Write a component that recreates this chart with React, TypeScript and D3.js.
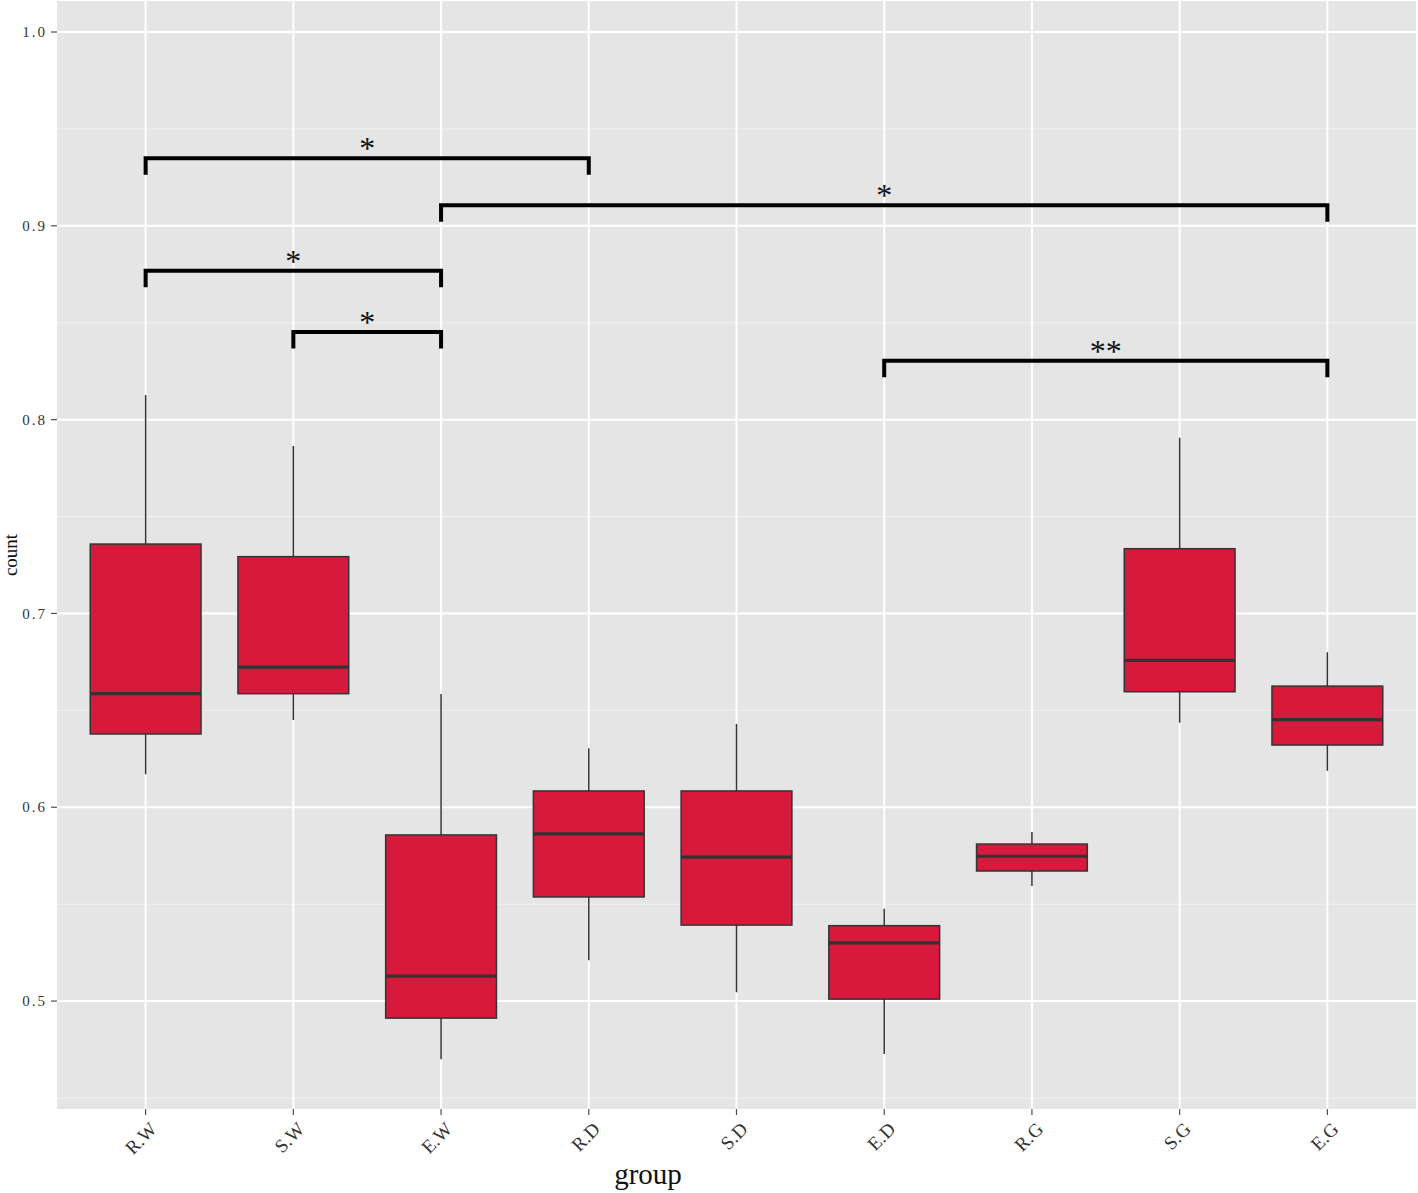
import React, { useEffect, useRef } from 'react';
import * as d3 from 'd3';

// boxplot stats per group
const groups = ['R.W', 'S.W', 'E.W', 'R.D', 'S.D', 'E.D', 'R.G', 'S.G', 'E.G'];
const lowerWhisker = [0.617, 0.645, 0.470, 0.521, 0.5046, 0.4727, 0.5593, 0.6436, 0.6188];
const lowerHinge = [0.6378, 0.6586, 0.4912, 0.5537, 0.5392, 0.501, 0.5671, 0.6596, 0.6321];
const medians = [0.6586, 0.6723, 0.5129, 0.5863, 0.5743, 0.530, 0.5747, 0.6758, 0.6452];
const upperHinge = [0.7358, 0.7293, 0.5857, 0.6084, 0.6084, 0.5389, 0.581, 0.7334, 0.6625];
const upperWhisker = [0.8127, 0.7864, 0.6584, 0.6305, 0.643, 0.5476, 0.5872, 0.7907, 0.680];

// significance brackets
const bracketFrom = ['R.W', 'E.W', 'R.W', 'S.W', 'E.D'];
const bracketTo = ['R.D', 'E.G', 'E.W', 'E.W', 'E.G'];
const bracketY = [0.9348, 0.9106, 0.8768, 0.8452, 0.8304];
const bracketLabel = ['*', '*', '*', '*', '**'];

const yTicks = [0.5, 0.6, 0.7, 0.8, 0.9, 1.0];
const yMinor = [0.45, 0.55, 0.65, 0.75, 0.85, 0.95];

function App() {
  const ref = useRef(null);

  useEffect(() => {
    const W = 1418;
    const H = 1193;
    const panel = { left: 57, right: 1416, top: 1, bottom: 1109 };
    const svg = d3.select(ref.current);
    svg.selectAll('*').remove();
    svg.attr('width', W).attr('height', H);

    const x = d3.scalePoint().domain(groups).range([panel.left, panel.right]).padding(0.6);
    const y = d3.scaleLinear().domain([0.4443, 1.016]).range([panel.bottom, panel.top]);
    const font = '"Liberation Serif", "DejaVu Serif", serif';

    svg.append('rect').attr('width', W).attr('height', H).attr('fill', '#ffffff');
    svg
      .append('rect')
      .attr('x', panel.left)
      .attr('y', panel.top)
      .attr('width', panel.right - panel.left)
      .attr('height', panel.bottom - panel.top)
      .attr('fill', '#e5e5e5');

    // grid
    svg
      .append('g')
      .selectAll('line')
      .data(yMinor)
      .enter()
      .append('line')
      .attr('x1', panel.left)
      .attr('x2', panel.right)
      .attr('y1', (d) => y(d))
      .attr('y2', (d) => y(d))
      .attr('stroke', '#f2f2f2')
      .attr('stroke-width', 1);
    svg
      .append('g')
      .selectAll('line')
      .data(yTicks)
      .enter()
      .append('line')
      .attr('x1', panel.left)
      .attr('x2', panel.right)
      .attr('y1', (d) => y(d))
      .attr('y2', (d) => y(d))
      .attr('stroke', '#ffffff')
      .attr('stroke-width', 2);
    svg
      .append('g')
      .selectAll('line')
      .data(groups)
      .enter()
      .append('line')
      .attr('x1', (d) => x(d))
      .attr('x2', (d) => x(d))
      .attr('y1', panel.top)
      .attr('y2', panel.bottom)
      .attr('stroke', '#ffffff')
      .attr('stroke-width', 2);

    // boxes
    const boxW = x.step() * 0.75;
    const boxes = svg
      .append('g')
      .selectAll('g')
      .data(groups.map((g, i) => ({ g, i })))
      .enter()
      .append('g');
    boxes
      .append('line')
      .attr('x1', (d) => x(d.g))
      .attr('x2', (d) => x(d.g))
      .attr('y1', (d) => y(upperWhisker[d.i]))
      .attr('y2', (d) => y(lowerWhisker[d.i]))
      .attr('stroke', '#333333')
      .attr('stroke-width', 1.5);
    boxes
      .append('rect')
      .attr('x', (d) => x(d.g) - boxW / 2)
      .attr('y', (d) => y(upperHinge[d.i]))
      .attr('width', boxW)
      .attr('height', (d) => y(lowerHinge[d.i]) - y(upperHinge[d.i]))
      .attr('fill', '#d71a3b')
      .attr('stroke', '#333333')
      .attr('stroke-width', 1.5);
    boxes
      .append('line')
      .attr('x1', (d) => x(d.g) - boxW / 2)
      .attr('x2', (d) => x(d.g) + boxW / 2)
      .attr('y1', (d) => y(medians[d.i]))
      .attr('y2', (d) => y(medians[d.i]))
      .attr('stroke', '#333333')
      .attr('stroke-width', 3.2);

    // brackets
    const tickDrop = 0.0085;
    const br = svg
      .append('g')
      .selectAll('g')
      .data(bracketY.map((v, i) => i))
      .enter()
      .append('g');
    br.append('path')
      .attr('d', (i) => {
        const x1 = x(bracketFrom[i]);
        const x2 = x(bracketTo[i]);
        const yt = y(bracketY[i]);
        const yb = y(bracketY[i] - tickDrop);
        return `M${x1},${yb}L${x1},${yt}L${x2},${yt}L${x2},${yb}`;
      })
      .attr('fill', 'none')
      .attr('stroke', '#000000')
      .attr('stroke-width', 4);
    br.append('text')
      .attr('x', (i) => (x(bracketFrom[i]) + x(bracketTo[i])) / 2)
      .attr('y', (i) => y(bracketY[i]) + 1)
      .attr('text-anchor', 'middle')
      .attr('font-family', font)
      .attr('font-size', 32)
      .attr('fill', '#111111')
      .text((i) => bracketLabel[i]);

    // y axis
    const ya = svg.append('g');
    ya.selectAll('line')
      .data(yTicks)
      .enter()
      .append('line')
      .attr('x1', panel.left - 6)
      .attr('x2', panel.left)
      .attr('y1', (d) => y(d))
      .attr('y2', (d) => y(d))
      .attr('stroke', '#4d4d4d')
      .attr('stroke-width', 1.2);
    ya.selectAll('text')
      .data(yTicks)
      .enter()
      .append('text')
      .attr('x', panel.left - 10)
      .attr('y', (d) => y(d))
      .attr('dy', '0.35em')
      .attr('text-anchor', 'end')
      .attr('font-family', font)
      .attr('font-size', 15)
      .attr('letter-spacing', 2)
      .attr('fill', '#333333')
      .text((d) => d3.format('.1f')(d));

    // x axis
    const xa = svg.append('g');
    xa.selectAll('line')
      .data(groups)
      .enter()
      .append('line')
      .attr('x1', (d) => x(d))
      .attr('x2', (d) => x(d))
      .attr('y1', panel.bottom)
      .attr('y2', panel.bottom + 6)
      .attr('stroke', '#4d4d4d')
      .attr('stroke-width', 1.2);
    xa.selectAll('text')
      .data(groups)
      .enter()
      .append('text')
      .attr('transform', (d) => `translate(${x(d) + 3},${panel.bottom + 12}) rotate(-45)`)
      .attr('text-anchor', 'end')
      .attr('dy', '0.7em')
      .attr('font-family', font)
      .attr('font-size', 19)
      .attr('fill', '#333333')
      .text((d) => d);

    // titles
    svg
      .append('text')
      .attr('x', 648)
      .attr('y', 1184)
      .attr('text-anchor', 'middle')
      .attr('font-family', font)
      .attr('font-size', 29)
      .attr('fill', '#111111')
      .text('group');
    svg
      .append('text')
      .attr('transform', `translate(10,${(panel.top + panel.bottom) / 2}) rotate(-90)`)
      .attr('text-anchor', 'middle')
      .attr('dy', '0.35em')
      .attr('font-family', font)
      .attr('font-size', 19)
      .attr('fill', '#111111')
      .text('count');
  }, []);

  return <svg ref={ref} style={{ position: 'absolute', left: 0, top: 0, display: 'block' }} />;
}

export default App;
